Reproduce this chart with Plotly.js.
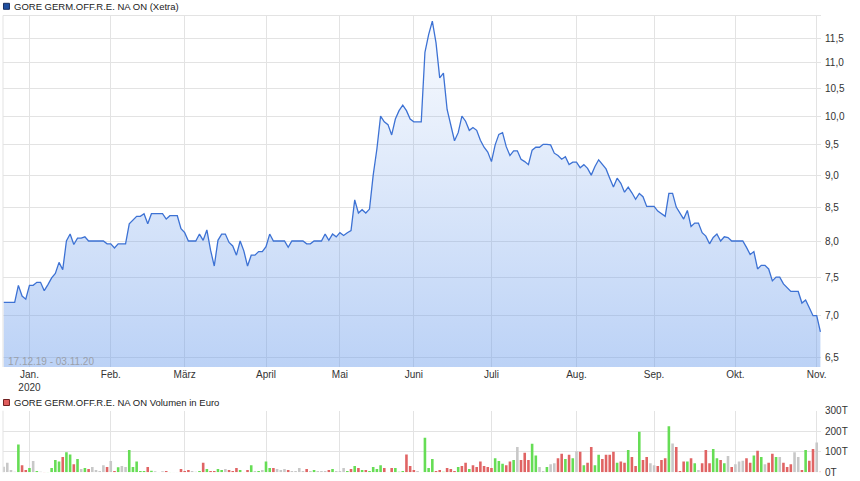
<!DOCTYPE html>
<html>
<head>
<meta charset="utf-8">
<script src="https://cdn.plot.ly/plotly-3.0.1.min.js"></script>
<style>html,body{margin:0;padding:0;background:#fff;}#chart{width:860px;height:481px;}</style>
</head>
<body>
<div id="chart"></div>
<script>
// Closing prices (EUR), one per Xetra trading day, 17.12.19 - 03.11.20
const price = [
  7.17, 7.17, 7.17, 7.17, 7.39, 7.25, 7.21, 7.39, 7.39, 7.43,
  7.43, 7.32, 7.40, 7.49, 7.55, 7.70, 7.60, 8.00, 8.10, 7.95,
  8.04, 8.04, 8.06, 8.00, 8.00, 8.00, 8.00, 8.00, 7.96, 7.96,
  7.90, 7.96, 7.96, 7.96, 8.25, 8.31, 8.36, 8.36, 8.40, 8.25,
  8.40, 8.40, 8.40, 8.40, 8.32, 8.37, 8.37, 8.37, 8.18, 8.12,
  8.00, 8.00, 8.00, 8.10, 8.01, 8.16, 7.87, 7.65, 8.01, 8.10,
  8.10, 7.98, 7.93, 7.80, 8.00, 7.86, 7.65, 7.80, 7.80, 7.85,
  7.85, 7.92, 8.10, 8.00, 8.00, 8.00, 8.00, 7.91, 8.00, 8.00,
  8.00, 8.00, 7.96, 7.96, 8.00, 8.00, 8.00, 8.10, 8.01, 8.10,
  8.06, 8.12, 8.08, 8.12, 8.15, 8.61, 8.41, 8.46, 8.41, 8.47,
  9.00, 9.43, 10.00, 9.90, 9.85, 9.67, 9.95, 10.10, 10.20, 10.10,
  9.95, 9.90, 9.90, 9.90, 11.21, 11.57, 11.85, 11.40, 10.71, 10.80,
  10.12, 9.85, 9.57, 9.71, 10.00, 9.91, 9.75, 9.80, 9.75, 9.58,
  9.46, 9.38, 9.22, 9.50, 9.68, 9.71, 9.47, 9.32, 9.40, 9.40,
  9.26, 9.22, 9.17, 9.41, 9.46, 9.46, 9.51, 9.51, 9.50, 9.36,
  9.32, 9.26, 9.30, 9.17, 9.21, 9.21, 9.12, 9.17, 9.11, 9.00,
  9.14, 9.25, 9.17, 9.10, 8.95, 8.81, 8.95, 8.87, 8.73, 8.81,
  8.72, 8.62, 8.71, 8.66, 8.51, 8.51, 8.51, 8.44, 8.40, 8.36,
  8.71, 8.71, 8.50, 8.41, 8.32, 8.45, 8.21, 8.26, 8.26, 8.12,
  8.07, 7.96, 8.05, 8.10, 8.00, 8.06, 8.05, 8.00, 8.00, 8.00,
  8.00, 7.91, 7.81, 7.85, 7.61, 7.66, 7.66, 7.61, 7.45, 7.50,
  7.50, 7.41, 7.36, 7.31, 7.31, 7.31, 7.16, 7.20, 7.10, 7.00,
  7.00, 6.80
];

// Daily turnover in thousand euro (T)
const volume = [
  27, 47, 11, 3, 135, 34, 11, 21, 55, 6,
  3, 2, 2, 21, 60, 52, 74, 98, 87, 39,
  65, 16, 21, 16, 26, 11, 6, 34, 26, 55,
  6, 24, 31, 26, 108, 26, 52, 6, 6, 26,
  8, 5, 2, 5, 6, 2, 1, 1, 16, 6,
  11, 6, 3, 6, 47, 16, 6, 6, 16, 11,
  16, 11, 6, 21, 11, 2, 11, 34, 6, 6,
  11, 52, 21, 21, 16, 11, 16, 11, 6, 6,
  21, 6, 16, 6, 11, 6, 6, 6, 11, 16,
  6, 6, 21, 6, 16, 31, 21, 11, 11, 6,
  26, 16, 34, 21, 1, 21, 21, 3, 6, 87,
  31, 11, 6, 1, 168, 21, 65, 6, 11, 3,
  21, 16, 6, 26, 31, 47, 16, 34, 26, 52,
  31, 26, 21, 69, 55, 42, 34, 52, 60, 123,
  60, 95, 60, 139, 82, 26, 6, 26, 39, 44,
  69, 90, 65, 85, 69, 103, 100, 34, 47, 123,
  34, 85, 65, 85, 85, 100, 47, 52, 47, 108,
  74, 31, 197, 60, 74, 44, 34, 31, 60, 69,
  224, 140, 123, 6, 52, 52, 69, 44, 11, 44,
  108, 44, 113, 69, 60, 44, 79, 26, 39, 52,
  56, 69, 47, 82, 105, 74, 39, 47, 90, 74,
  74, 47, 26, 39, 98, 74, 11, 108, 56, 113,
  145, 3
];

// Day direction for the volume bar colour: u = up, d = down, n = unchanged
const direction = [
  'nnnnuddunu', 'nduuuuduud', 'unudnnnndn', 'dunnuuuuud', 'unnndunndd',
  'dnnududduu', 'ndddundunu', 'nuudnnndnn', 'nndnunnndu', 'nnnudududu',
  'uuudnduuud', 'ddnnuuuddu', 'dddudduddd', 'ddduuuddun', 'ddduunnunn',
  'ddudundudd', 'uudddduddu', 'ddudd' + 'nnddd', 'undddudund', 'dduudundnn',
  'nddudunddu', 'ndddnndudd', 'nd'
].join('').split('');

// Month ticks: index of first trading day in each month
const monthIndex = [7, 29, 49, 71, 91, 111, 132, 155, 176, 198, 220];
const monthLabels = ['Jan.<br>2020', 'Feb.', 'März', 'April', 'Mai', 'Juni', 'Juli', 'Aug.', 'Sep.', 'Okt.', 'Nov.'];

const priceTicks = [6.5, 7.0, 7.5, 8.0, 8.5, 9.0, 9.5, 10.0, 10.5, 11.0, 11.5];
const volumeTicks = [0, 100, 200, 300];
const volumeTickLabels = ['0T', '100T', '200T', '300T'];

const priceName = 'GORE GERM.OFF.R.E. NA ON (Xetra)';
const volumeName = 'GORE GERM.OFF.R.E. NA ON Volumen in Euro';
const periodText = '17.12.19 - 03.11.20';

const day = price.map((_, i) => i);
const colorFor = {u: '#66dd55', d: '#e06464', n: '#c8c8c8'};
const barColors = direction.map(d => colorFor[d]);

const grid = '#e3e3e3';
const font = 'Liberation Sans, Arial, sans-serif';

const traces = [
  {
    x: day, y: price, type: 'scatter', mode: 'lines',
    line: {color: '#3d72d4', width: 1.3},
    fill: 'tozeroy',
    fillgradient: {
      type: 'vertical', start: 6.385, stop: 11.95,
      colorscale: [[0, 'rgba(105,155,235,0.45)'], [1, 'rgba(105,155,235,0.03)']]
    },
    xaxis: 'x', yaxis: 'y', hoverinfo: 'skip'
  },
  {
    x: day, y: volume, type: 'bar',
    marker: {color: barColors, line: {width: 0}},
    xaxis: 'x2', yaxis: 'y2', hoverinfo: 'skip'
  }
];

const H = 481;
const py = px => 1 - px / H;

const layout = {
  width: 860, height: 481,
  margin: {l: 3, r: 39, t: 0, b: 0, pad: 0},
  paper_bgcolor: '#fff', plot_bgcolor: '#fff',
  separators: ',.',
  showlegend: false,
  bargap: 0.3,
  font: {family: font, size: 10, color: '#333'},
  xaxis: {
    domain: [0, 1], range: [-0.16, 221.16], anchor: 'y',
    tickmode: 'array', tickvals: monthIndex, ticktext: monthLabels,
    showgrid: true, gridcolor: grid, gridwidth: 1, zeroline: false, showline: false,
    ticks: '', tickfont: {family: font, size: 10, color: '#333'}
  },
  yaxis: {
    domain: [py(367), py(15.5)], type: 'log', range: [0.80527, 1.07817], anchor: 'x',
    side: 'right', tickmode: 'array', tickvals: priceTicks, tickformat: '.1f',
    showgrid: true, gridcolor: grid, gridwidth: 1, zeroline: false, showline: false,
    ticks: '', ticklabelstandoff: 3, tickfont: {family: font, size: 10, color: '#333'}
  },
  xaxis2: {
    domain: [0, 1], range: [-0.16, 221.16], anchor: 'y2', matches: 'x',
    tickmode: 'array', tickvals: monthIndex, showticklabels: false,
    showgrid: true, gridcolor: grid, gridwidth: 1, zeroline: false, showline: false, ticks: ''
  },
  yaxis2: {
    domain: [py(472.3), py(410.7)], range: [0, 300], anchor: 'x2',
    side: 'right', tickmode: 'array', tickvals: volumeTicks, ticktext: volumeTickLabels,
    showgrid: true, gridcolor: grid, gridwidth: 1, zeroline: false, showline: false,
    ticks: '', ticklabelstandoff: 3, tickfont: {family: font, size: 10, color: '#333'}
  },
  shapes: [
    {type: 'line', xref: 'x domain', yref: 'y domain', x0: 0, x1: 1, y0: 1, y1: 1, line: {color: grid, width: 1}},
    {type: 'line', xref: 'x domain', yref: 'y domain', x0: 0, x1: 0, y0: 0, y1: 1, line: {color: grid, width: 1}},
    {type: 'line', xref: 'x2 domain', yref: 'y2 domain', x0: 0, x1: 0, y0: 0, y1: 1, line: {color: grid, width: 1}},
    {type: 'rect', xref: 'paper', yref: 'paper', x0: 0.0006, x1: 0.0079, y0: py(9.3), y1: py(3.3),
      fillcolor: '#1f4fa0', line: {color: '#1a2f60', width: 1}},
    {type: 'rect', xref: 'paper', yref: 'paper', x0: 0.0006, x1: 0.0079, y0: py(405.5), y1: py(399.5),
      fillcolor: '#e05c5c', line: {color: '#702020', width: 1}}
  ],
  annotations: [
    {text: priceName, xref: 'paper', yref: 'paper', x: 0.0115, y: py(6), xanchor: 'left', yanchor: 'middle',
      showarrow: false, font: {family: font, size: 9.5, color: '#222'}},
    {text: volumeName, xref: 'paper', yref: 'paper', x: 0.0115, y: py(402.3), xanchor: 'left', yanchor: 'middle',
      showarrow: false, font: {family: font, size: 9.5, color: '#222'}},
    {text: periodText, xref: 'paper', yref: 'paper', x: 0.004, y: py(361.5), xanchor: 'left', yanchor: 'middle',
      showarrow: false, font: {family: font, size: 10, color: '#9aa0aa'}}
  ]
};

Plotly.newPlot('chart', traces, layout, {staticPlot: true, displayModeBar: false});
</script>
</body>
</html>
